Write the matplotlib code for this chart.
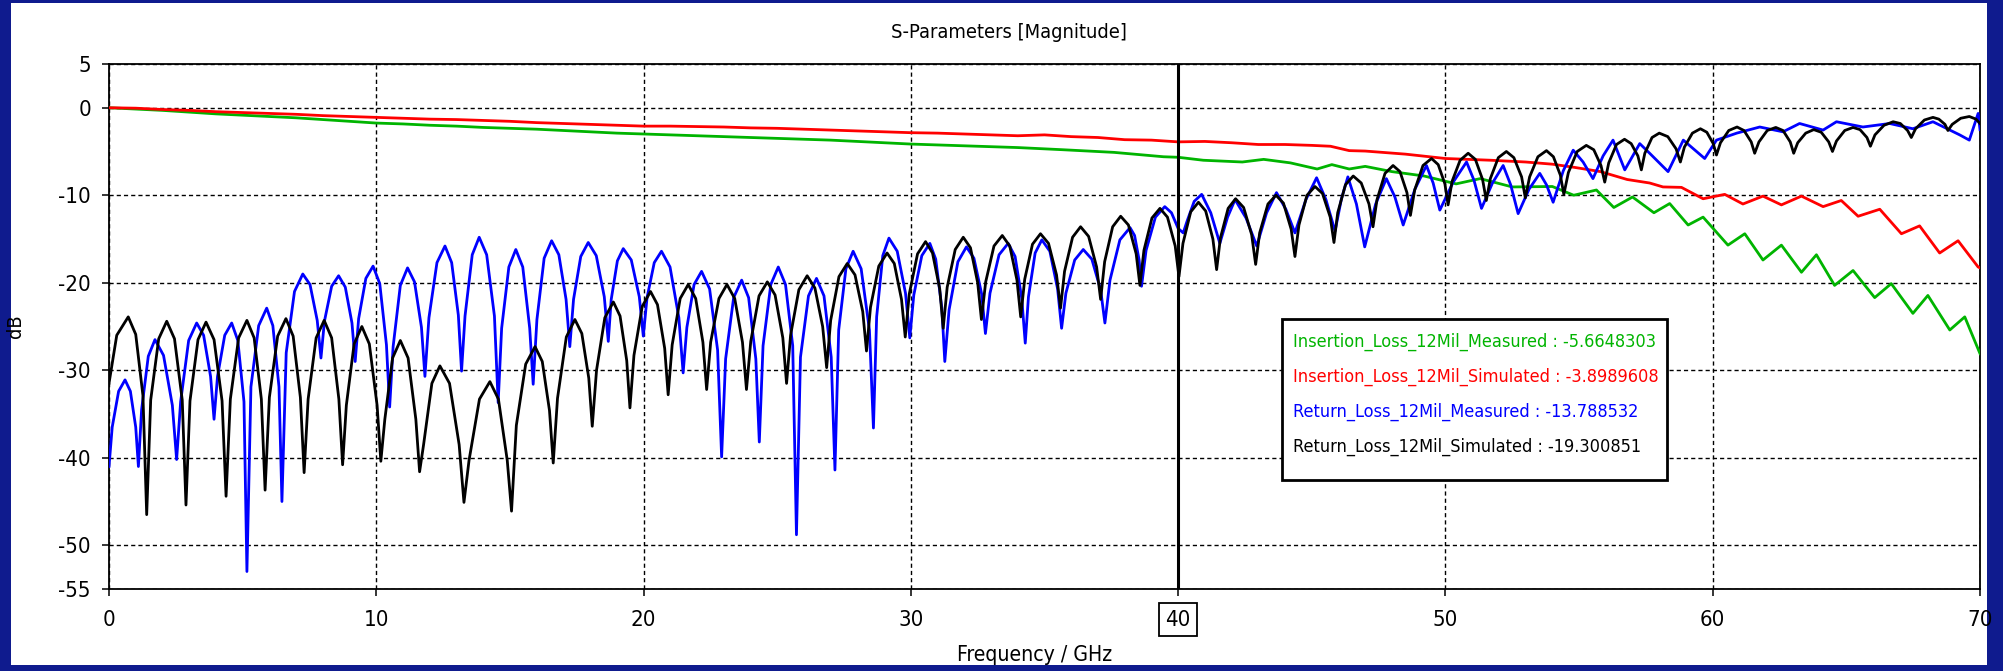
import matplotlib
matplotlib.use("Agg")
import matplotlib.pyplot as plt
from matplotlib import font_manager
from matplotlib.patches import Rectangle
import numpy as np

# narrow face if there is one, otherwise DejaVu at a smaller size
_fonts = font_manager.fontManager.ttflist
_names = {f.name for f in _fonts}
if "Liberation Sans Narrow" in _names:
    FAMILY, STRETCH, SCALE = "Liberation Sans Narrow", "normal", 1.0
elif any(f.name == "DejaVu Sans" and f.stretch == "condensed" for f in _fonts):
    FAMILY, STRETCH, SCALE = "DejaVu Sans", "condensed", 0.85
elif "Roboto Condensed" in _names:
    FAMILY, STRETCH, SCALE = "Roboto Condensed", "normal", 0.95
else:
    FAMILY, STRETCH, SCALE = "DejaVu Sans", "normal", 0.76
plt.rcParams["font.family"] = [FAMILY, "DejaVu Sans"]
plt.rcParams["font.stretch"] = STRETCH
plt.rcParams["axes.unicode_minus"] = False

# values (frequency GHz, dB)
il_meas = [(0, 0), (1, -0.15), (2, -0.3), (3, -0.5), (4, -0.7), (5, -0.85), (6, -1.0), (7, -1.15),
           (8, -1.35), (9, -1.55), (10, -1.75), (11, -1.85), (12, -2.0), (13, -2.1), (14, -2.25),
           (15, -2.35), (16, -2.45), (17, -2.6), (18, -2.75), (19, -2.9), (20, -3.0), (21, -3.1),
           (22, -3.2), (23, -3.3), (24, -3.4), (25, -3.5), (26, -3.6), (27, -3.7), (28, -3.85),
           (29, -4.0), (30, -4.15), (31, -4.25), (32, -4.35), (33, -4.45), (34, -4.55), (35.7, -4.8),
           (37.6, -5.1), (39.45, -5.6), (40, -5.66), (40.94, -6.0), (42.4, -6.2), (43.2, -5.9),
           (44.2, -6.3), (45.2, -7.0), (45.75, -6.5), (46.4, -7.0), (47.0, -6.7), (48.0, -7.3),
           (49.2, -7.8), (50.4, -8.7), (51.3, -8.1), (52.5, -9.05), (54.0, -9.0), (54.8, -10.0),
           (55.65, -9.4), (56.3, -11.4), (57.0, -10.2), (57.8, -12.0), (58.39, -10.95), (59.08, -13.4),
           (59.64, -12.5), (60.57, -15.7), (61.2, -14.4), (61.88, -17.4), (62.57, -15.7), (63.32, -18.8),
           (63.88, -16.8), (64.56, -20.3), (65.25, -18.6), (66.06, -21.7), (66.68, -20.1), (67.49, -23.5),
           (68.05, -21.45), (68.87, -25.4), (69.43, -23.9), (70.0, -28.1)]

il_sim = [(0, 0), (1, -0.05), (2, -0.2), (3, -0.3), (4, -0.45), (5, -0.55), (6, -0.65), (7, -0.75),
          (8, -0.9), (9, -1.0), (10, -1.1), (11, -1.2), (12, -1.3), (13, -1.35), (14, -1.45),
          (15, -1.55), (16, -1.7), (17, -1.8), (18, -1.9), (19, -2.0), (20, -2.1), (21, -2.1),
          (22, -2.15), (23, -2.2), (24, -2.3), (25, -2.35), (26, -2.45), (27, -2.55), (28, -2.65),
          (29, -2.75), (30, -2.85), (31, -2.9), (32, -3.0), (33, -3.1), (34, -3.2), (35, -3.1),
          (36, -3.3), (37, -3.4), (38, -3.65), (39, -3.7), (40, -3.9), (41, -3.85), (42, -4.0),
          (43, -4.2), (44, -4.2), (45, -4.3), (45.7, -4.4), (46.4, -4.9), (47.0, -4.95), (48.5, -5.3),
          (50, -5.8), (51.7, -6.0), (53, -6.2), (54, -6.45), (54.8, -6.8), (55.8, -7.3), (56.8, -8.2),
          (57.64, -8.6), (58.14, -9.05), (58.83, -9.1), (59.64, -10.4), (60.45, -9.9), (61.13, -11.0),
          (61.88, -10.1), (62.57, -11.1), (63.32, -10.1), (64.13, -11.3), (64.81, -10.6), (65.44, -12.4),
          (66.25, -11.6), (67.06, -14.4), (67.74, -13.5), (68.49, -16.6), (69.18, -15.2), (69.93, -18.2),
          (70.0, -18.3)]

rl_meas = [(0.0, -41.0), (0.12, -36.5), (0.36, -32.4), (0.6, -31.1), (0.8, -32.4), (1.0, -36.5),
           (1.1, -41.0), (1.22, -34.5), (1.47, -28.4), (1.72, -26.5), (2.04, -28.3), (2.37, -34.0),
           (2.53, -40.2), (2.68, -33.6), (2.98, -26.6), (3.28, -24.6), (3.54, -26.0), (3.8, -30.7),
           (3.93, -35.6), (4.06, -30.7), (4.33, -26.0), (4.59, -24.6), (4.82, -26.6), (5.05, -33.6),
           (5.16, -53.0), (5.31, -31.9), (5.6, -24.9), (5.9, -22.9), (6.13, -24.9), (6.36, -31.9),
           (6.47, -45.0), (6.63, -28.0), (6.94, -21.0), (7.25, -19.0), (7.52, -20.2), (7.79, -24.3),
           (7.93, -28.6), (8.06, -24.4), (8.33, -20.4), (8.59, -19.2), (8.84, -20.5), (9.09, -24.6),
           (9.21, -29.0), (9.34, -24.1), (9.61, -19.5), (9.88, -18.1), (10.13, -20.1), (10.38, -27.1),
           (10.5, -34.2), (10.63, -27.3), (10.9, -20.3), (11.17, -18.3), (11.43, -19.9), (11.69, -25.1),
           (11.82, -30.7), (11.97, -24.0), (12.27, -17.7), (12.57, -15.8), (12.82, -17.7), (13.07, -23.7),
           (13.19, -30.1), (13.32, -23.8), (13.59, -16.8), (13.85, -14.8), (14.13, -16.8), (14.42, -23.8),
           (14.56, -33.7), (14.69, -25.2), (14.96, -18.2), (15.22, -16.2), (15.48, -18.2), (15.74, -25.2),
           (15.87, -31.6), (16.01, -24.2), (16.28, -17.2), (16.56, -15.2), (16.83, -16.8), (17.1, -21.9),
           (17.24, -27.3), (17.38, -21.9), (17.65, -17.0), (17.93, -15.4), (18.23, -16.9), (18.53, -21.6),
           (18.68, -26.7), (18.79, -21.9), (19.02, -17.5), (19.24, -16.1), (19.54, -17.4), (19.84, -21.6),
           (19.99, -26.1), (20.13, -21.7), (20.4, -17.7), (20.67, -16.4), (20.99, -18.2), (21.32, -24.0),
           (21.48, -30.3), (21.62, -25.1), (21.89, -20.2), (22.17, -18.7), (22.47, -20.7), (22.77, -27.7),
           (22.92, -39.9), (23.07, -28.7), (23.37, -21.7), (23.67, -19.7), (23.93, -21.7), (24.2, -28.7),
           (24.33, -38.2), (24.47, -27.2), (24.76, -20.2), (25.04, -18.2), (25.31, -20.2), (25.58, -27.2),
           (25.72, -48.8), (25.87, -28.5), (26.17, -21.5), (26.47, -19.5), (26.75, -21.5), (27.02, -28.5),
           (27.16, -41.4), (27.3, -25.4), (27.57, -18.4), (27.84, -16.4), (28.14, -18.4), (28.45, -25.4),
           (28.6, -36.6), (28.72, -23.9), (28.95, -16.9), (29.18, -14.9), (29.49, -16.4), (29.8, -21.2),
           (29.96, -26.3), (30.11, -21.4), (30.41, -16.9), (30.71, -15.5), (30.93, -17.3), (31.16, -22.9),
           (31.27, -29.0), (31.43, -23.1), (31.76, -17.6), (32.08, -15.9), (32.36, -17.2), (32.65, -21.3),
           (32.79, -25.8), (32.96, -21.2), (33.3, -16.8), (33.64, -15.5), (33.9, -17.0), (34.15, -21.8),
           (34.28, -26.9), (34.4, -21.6), (34.65, -16.6), (34.9, -15.1), (35.2, -16.4), (35.49, -20.7),
           (35.64, -25.2), (35.8, -21.2), (36.13, -17.4), (36.45, -16.2), (36.77, -17.3), (37.1, -20.8),
           (37.26, -24.6), (37.45, -19.7), (37.82, -15.1), (38.2, -13.7), (38.37, -14.6), (38.54, -17.4),
           (38.63, -20.4), (38.8, -16.3), (39.15, -12.5), (39.5, -11.3), (39.75, -12.0), (40.0, -13.79),
           (40.19, -14.3), (40.33, -13.0), (40.6, -10.7), (40.88, -9.9), (41.22, -12.0), (41.56, -15.5),
           (41.85, -12.5), (42.13, -10.5), (42.54, -12.6), (42.94, -15.8), (43.31, -12.0), (43.68, -9.7),
           (44.03, -11.6), (44.37, -14.3), (44.78, -10.5), (45.18, -8.0), (45.53, -10.5), (45.87, -14.1),
           (46.11, -10.4), (46.35, -7.9), (46.67, -11.0), (46.98, -15.9), (47.39, -11.0), (47.79, -8.1),
           (48.11, -10.2), (48.42, -13.4), (48.86, -9.3), (49.29, -6.6), (49.54, -8.6), (49.79, -11.7),
           (50.29, -8.5), (50.79, -6.2), (51.07, -8.3), (51.35, -11.5), (51.76, -8.6), (52.16, -6.6),
           (52.44, -8.8), (52.72, -12.1), (53.13, -9.3), (53.53, -7.5), (53.78, -8.8), (54.03, -10.8),
           (54.41, -7.2), (54.78, -4.85), (55.15, -6.2), (55.52, -8.1), (55.9, -5.5), (56.27, -3.7),
           (56.71, -7.1), (57.27, -4.1), (57.64, -5.2), (58.33, -7.3), (58.9, -3.7), (59.7, -5.8),
           (60.14, -3.7), (60.9, -2.9), (61.76, -2.2), (62.63, -2.75), (63.25, -1.8), (64.13, -2.55),
           (64.63, -1.6), (65.62, -2.2), (66.62, -1.8), (67.49, -2.4), (68.24, -1.6), (69.24, -3.1),
           (69.6, -3.7), (69.93, -0.65), (70.0, -2.5)]

rl_sim = [(0.0, -31.5), (0.29, -26.0), (0.72, -23.9), (1.0, -25.9), (1.27, -32.9), (1.41, -46.5),
          (1.56, -33.4), (1.86, -26.4), (2.16, -24.4), (2.45, -26.4), (2.74, -33.4), (2.88, -45.4),
          (3.03, -33.5), (3.33, -26.5), (3.63, -24.5), (3.93, -26.5), (4.23, -33.5), (4.38, -44.4),
          (4.54, -33.3), (4.85, -26.3), (5.16, -24.3), (5.43, -26.3), (5.7, -33.3), (5.84, -43.7),
          (6.0, -33.1), (6.31, -26.1), (6.62, -24.1), (6.89, -26.1), (7.16, -33.1), (7.3, -41.7),
          (7.45, -33.3), (7.75, -26.3), (8.05, -24.3), (8.33, -26.3), (8.6, -33.3), (8.74, -40.8),
          (8.88, -34.0), (9.17, -27.0), (9.46, -25.0), (9.74, -27.0), (10.03, -34.0), (10.17, -40.4),
          (10.32, -35.6), (10.61, -28.6), (10.9, -26.6), (11.19, -28.6), (11.48, -35.6), (11.62, -41.6),
          (11.77, -38.5), (12.08, -31.5), (12.38, -29.5), (12.74, -31.5), (13.1, -38.5), (13.28, -45.1),
          (13.47, -40.3), (13.86, -33.3), (14.25, -31.3), (14.57, -33.3), (14.9, -40.3), (15.06, -46.1),
          (15.24, -36.3), (15.59, -29.3), (15.94, -27.3), (16.21, -29.0), (16.48, -34.6), (16.62, -40.6),
          (16.78, -33.2), (17.11, -26.2), (17.43, -24.2), (17.69, -25.8), (17.95, -30.9), (18.08, -36.4),
          (18.24, -30.0), (18.55, -24.0), (18.87, -22.2), (19.12, -23.8), (19.37, -28.9), (19.49, -34.3),
          (19.64, -28.3), (19.95, -22.7), (20.26, -21.0), (20.52, -22.5), (20.79, -27.5), (20.92, -32.8),
          (21.07, -27.1), (21.37, -21.8), (21.67, -20.2), (21.95, -21.8), (22.22, -26.8), (22.36, -32.2),
          (22.51, -26.8), (22.82, -21.8), (23.12, -20.2), (23.41, -21.8), (23.7, -26.8), (23.85, -32.2),
          (24.01, -26.7), (24.32, -21.5), (24.63, -19.9), (24.92, -21.4), (25.21, -26.3), (25.35, -31.5),
          (25.5, -26.0), (25.81, -20.8), (26.12, -19.2), (26.41, -20.6), (26.7, -25.0), (26.85, -29.7),
          (27.0, -24.3), (27.31, -19.3), (27.62, -17.8), (27.91, -19.1), (28.2, -23.3), (28.34, -27.8),
          (28.49, -22.8), (28.8, -18.1), (29.11, -16.6), (29.38, -17.8), (29.65, -21.9), (29.79, -26.2),
          (29.94, -21.3), (30.25, -16.7), (30.55, -15.3), (30.81, -16.6), (31.08, -20.7), (31.21, -25.2),
          (31.36, -20.5), (31.66, -16.2), (31.96, -14.8), (32.23, -16.0), (32.5, -20.0), (32.64, -24.2),
          (32.8, -19.9), (33.11, -15.8), (33.42, -14.6), (33.7, -15.8), (33.97, -19.7), (34.11, -23.9),
          (34.26, -19.6), (34.55, -15.6), (34.85, -14.4), (35.15, -15.5), (35.45, -19.1), (35.6, -22.9),
          (35.75, -18.7), (36.05, -14.8), (36.35, -13.6), (36.65, -14.7), (36.95, -18.2), (37.1, -21.9),
          (37.25, -17.6), (37.55, -13.6), (37.85, -12.4), (38.14, -13.4), (38.43, -16.7), (38.57, -20.3),
          (38.72, -16.3), (39.02, -12.6), (39.32, -11.5), (39.6, -12.5), (39.89, -15.8), (40.03, -19.3),
          (40.18, -15.5), (40.47, -11.9), (40.76, -10.8), (41.03, -11.8), (41.3, -15.0), (41.44, -18.5),
          (41.58, -14.9), (41.87, -11.5), (42.15, -10.4), (42.45, -11.4), (42.75, -14.5), (42.9, -17.9),
          (43.05, -14.3), (43.36, -11.0), (43.66, -10.0), (43.94, -10.9), (44.23, -13.9), (44.37, -17.0),
          (44.52, -13.4), (44.82, -10.0), (45.12, -9.0), (45.4, -9.8), (45.69, -12.5), (45.83, -15.4),
          (45.97, -12.0), (46.26, -8.8), (46.55, -7.8), (46.85, -8.6), (47.14, -11.0), (47.29, -13.6),
          (47.44, -10.5), (47.74, -7.5), (48.04, -6.6), (48.3, -7.3), (48.56, -9.7), (48.69, -12.3),
          (48.85, -9.4), (49.16, -6.6), (49.48, -5.8), (49.73, -6.5), (49.98, -8.7), (50.1, -11.1),
          (50.25, -8.4), (50.55, -6.0), (50.85, -5.2), (51.12, -5.9), (51.39, -8.2), (51.53, -10.6),
          (51.68, -8.1), (51.98, -5.7), (52.28, -5.0), (52.56, -5.7), (52.85, -7.9), (52.99, -10.3),
          (53.15, -7.9), (53.46, -5.6), (53.78, -4.9), (54.04, -5.6), (54.3, -7.7), (54.43, -9.9),
          (54.6, -7.4), (54.93, -5.0), (55.27, -4.3), (55.55, -4.8), (55.82, -6.6), (55.96, -8.5),
          (56.11, -6.3), (56.4, -4.2), (56.7, -3.6), (56.95, -4.1), (57.2, -5.5), (57.33, -7.1),
          (57.46, -5.2), (57.73, -3.4), (58.0, -2.9), (58.32, -3.3), (58.63, -4.7), (58.79, -6.2),
          (58.94, -4.5), (59.24, -2.9), (59.54, -2.4), (59.78, -2.8), (60.02, -4.1), (60.14, -5.4),
          (60.29, -4.0), (60.6, -2.6), (60.91, -2.2), (61.17, -2.6), (61.44, -3.9), (61.57, -5.2),
          (61.73, -3.9), (62.04, -2.6), (62.36, -2.25), (62.63, -2.6), (62.9, -3.9), (63.03, -5.2),
          (63.18, -4.0), (63.48, -2.9), (63.78, -2.5), (64.06, -2.8), (64.34, -3.9), (64.48, -5.0),
          (64.63, -3.8), (64.94, -2.6), (65.25, -2.25), (65.51, -2.5), (65.77, -3.4), (65.9, -4.4),
          (66.07, -3.1), (66.41, -2.0), (66.75, -1.6), (67.02, -1.8), (67.29, -2.6), (67.43, -3.4),
          (67.59, -2.4), (67.92, -1.4), (68.24, -1.1), (68.46, -1.3), (68.69, -1.9), (68.8, -2.6),
          (68.96, -1.9), (69.28, -1.2), (69.6, -1.0), (69.85, -1.3), (70.0, -1.8)]

labels = ["Insertion_Loss_12Mil_Measured : -5.6648303",
          "Insertion_Loss_12Mil_Simulated : -3.8989608",
          "Return_Loss_12Mil_Measured : -13.788532",
          "Return_Loss_12Mil_Simulated : -19.300851"]
colors = ["#00b400", "#ff0000", "#0000ff", "#000000"]
series = [il_meas, il_sim, rl_meas, rl_sim]

x_ticks = [0, 10, 20, 30, 40, 50, 60, 70]
y_ticks = [5, 0, -10, -20, -30, -40, -50, -55]
marker_f = 40

W, H = 2003, 671
fs = 17 * SCALE
fig = plt.figure(figsize=(W / 100, H / 100), dpi=100, facecolor="#0f1b8e")
fig.add_artist(Rectangle((11 / W, 6 / H), 1976 / W, 662 / H, transform=fig.transFigure,
                         facecolor="white", edgecolor="none", zorder=0))
ax = fig.add_axes([109 / W, (H - 589) / H, 1871 / W, 525 / H])

for data, c in zip(series, colors):
    arr = np.array(data)
    ax.plot(arr[:, 0], arr[:, 1], color=c, lw=2.0, zorder=3)

ax.axvline(marker_f, color="black", lw=2.2, zorder=4)

ax.set_xlim(0, 70)
ax.set_ylim(-55, 5)
ax.set_xticks(x_ticks)
ax.set_yticks(y_ticks)
ax.grid(True, color="black", lw=1.0, linestyle=(0, (3, 2.2)), zorder=1)
ax.tick_params(direction="out", length=5, width=1.1, labelsize=fs * 1.1, colors="black")
ax.tick_params(axis="y", pad=8)
ax.tick_params(axis="x", pad=10)
for s in ax.spines.values():
    s.set_linewidth(1.3)
    s.set_color("black")

for t in ax.get_xticklabels():
    if t.get_text() == str(marker_f):
        t.set_bbox(dict(boxstyle="square,pad=0.3", facecolor="white", edgecolor="black", lw=1.3))

# value box: frame and one coloured line per curve
fig.add_artist(Rectangle((1282 / W, 1 - 480 / H), 385 / W, 161 / H, transform=fig.transFigure,
                         facecolor="white", edgecolor="black", lw=2.0, zorder=5))
for k, (lab, c) in enumerate(zip(labels, colors)):
    fig.text(1293 / W, 1 - (342 + 35 * k) / H, lab, color=c, ha="left", va="center",
             fontsize=fs * 0.9, zorder=6)

fig.text(1009 / W, 1 - 32 / H, "S-Parameters [Magnitude]", ha="center", va="center", fontsize=fs)
fig.text(1035 / W, 1 - 655 / H, "Frequency / GHz", ha="center", va="center", fontsize=fs * 1.05)
fig.text(16 / W, 1 - 326 / H, "dB", ha="center", va="center", rotation=90, fontsize=fs)

fig.savefig("out.png", dpi=100, facecolor=fig.get_facecolor())
